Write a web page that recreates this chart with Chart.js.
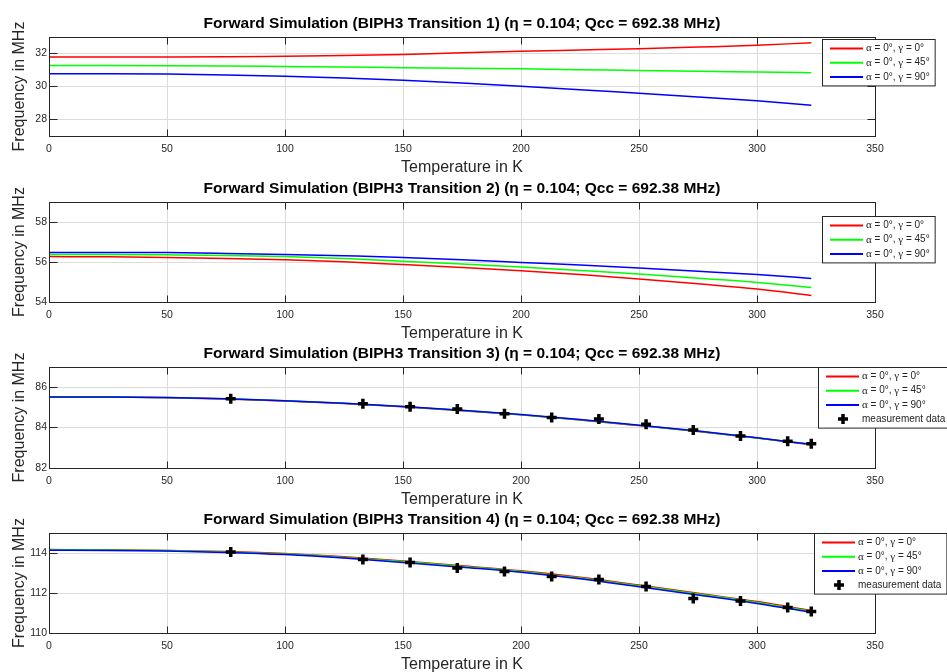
<!DOCTYPE html>
<html>
<head>
<meta charset="utf-8">
<title>Forward Simulation BIPH3</title>
<script src="https://cdn.jsdelivr.net/npm/chart.js@4.4.1/dist/chart.umd.min.js"></script>
<style>
  body { margin: 0; background: #fff; }
  #wrap { position: relative; width: 947px; height: 672px; overflow: hidden; }
  canvas { position: absolute; left: 0; }
</style>
</head>
<body>
<div id="wrap">
  <canvas id="c1" width="947" height="176" style="top:0px"></canvas>
  <canvas id="c2" width="947" height="177" style="top:165px"></canvas>
  <canvas id="c3" width="947" height="178" style="top:330px"></canvas>
  <canvas id="c4" width="947" height="177" style="top:496px"></canvas>
</div>
<script>
// temperature grid of the simulated curves (K)
const modelTemp = [0, 25, 50, 75, 100, 125, 150, 175, 200, 225, 250, 275, 300, 323];

// transition 1
const t1Red   = [31.79, 31.79, 31.79, 31.80, 31.84, 31.88, 31.94, 32.04, 32.13, 32.21, 32.29, 32.39, 32.50, 32.65];
const t1Green = [31.27, 31.27, 31.26, 31.24, 31.21, 31.18, 31.14, 31.11, 31.07, 31.02, 30.97, 30.92, 30.88, 30.84];
const t1Blue  = [30.78, 30.78, 30.76, 30.70, 30.62, 30.51, 30.38, 30.21, 30.02, 29.81, 29.59, 29.37, 29.13, 28.86];

// transition 2
const t2Red   = [56.27, 56.26, 56.23, 56.18, 56.11, 56.01, 55.87, 55.72, 55.56, 55.37, 55.15, 54.91, 54.65, 54.33];
const t2Green = [56.38, 56.38, 56.36, 56.33, 56.27, 56.17, 56.04, 55.90, 55.75, 55.58, 55.40, 55.19, 54.98, 54.73];
const t2Blue  = [56.48, 56.48, 56.47, 56.43, 56.38, 56.31, 56.23, 56.11, 55.98, 55.85, 55.70, 55.54, 55.37, 55.18];

// transition 3
const t3Red   = [85.51, 85.51, 85.48, 85.42, 85.32, 85.19, 85.03, 84.84, 84.63, 84.38, 84.10, 83.81, 83.48, 83.15];
const t3Green = [85.52, 85.52, 85.49, 85.43, 85.33, 85.20, 85.04, 84.85, 84.64, 84.39, 84.11, 83.82, 83.49, 83.16];
const t3Blue  = [85.52, 85.52, 85.49, 85.43, 85.33, 85.20, 85.04, 84.86, 84.65, 84.40, 84.12, 83.83, 83.50, 83.17];

// transition 4
const t4Red   = [114.17, 114.16, 114.13, 114.07, 113.97, 113.81, 113.60, 113.36, 113.11, 112.79, 112.40, 111.99, 111.57, 111.13];
const t4Green = [114.16, 114.15, 114.12, 114.05, 113.95, 113.78, 113.57, 113.33, 113.08, 112.75, 112.36, 111.95, 111.53, 111.08];
const t4Blue  = [114.14, 114.13, 114.10, 114.03, 113.92, 113.75, 113.53, 113.29, 113.04, 112.71, 112.31, 111.90, 111.48, 111.03];

// measurements
const measTemp = [77, 133, 153, 173, 193, 213, 233, 253, 273, 293, 313, 323];
const t3Meas = [85.43, 85.18, 85.03, 84.92, 84.68, 84.50, 84.42, 84.17, 83.88, 83.58, 83.32, 83.20];
const t4Meas = [114.05, 113.67, 113.52, 113.25, 113.07, 112.82, 112.68, 112.33, 111.72, 111.60, 111.27, 111.07];

// axes
const xTicks = [0, 50, 100, 150, 200, 250, 300, 350];
const t1Ticks = [28, 30, 32];
const t2Ticks = [54, 56, 58];
const t3Ticks = [82, 84, 86];
const t4Ticks = [110, 112, 114];

const seriesLabels = ['α = 0°, γ = 0°', 'α = 0°, γ = 45°', 'α = 0°, γ = 90°'];
const measLabel = 'measurement data';
const seriesColors = ['#ff0000', '#00ff00', '#0000ff'];

const SANS = '"Liberation Sans", Arial, sans-serif';
const AXIS = '#262626';

function pts(xs, ys) {
    return xs.map((x, i) => ({ x: x, y: ys[i] }));
}

// box around the axes with inward ticks like matlab
const matlabBox = {
    id: 'matlabBox',
    afterDatasetsDraw(chart) {
        const ctx = chart.ctx;
        const a = chart.chartArea;
        const l = Math.floor(a.left) + 0.5, r = Math.floor(a.right) + 0.5;
        const t = Math.floor(a.top) + 0.5, b = Math.floor(a.bottom) + 0.5;
        ctx.save();
        ctx.strokeStyle = AXIS;
        ctx.lineWidth = 1;
        ctx.strokeRect(l, t, r - l, b - t);
        ctx.beginPath();
        chart.scales.x.ticks.forEach(tk => {
            const x = Math.floor(chart.scales.x.getPixelForValue(tk.value)) + 0.5;
            ctx.moveTo(x, t); ctx.lineTo(x, t + 7);
            ctx.moveTo(x, b); ctx.lineTo(x, b - 7);
        });
        chart.scales.y.ticks.forEach(tk => {
            const y = Math.floor(chart.scales.y.getPixelForValue(tk.value)) + 0.5;
            ctx.moveTo(l, y); ctx.lineTo(l + 8, y);
            ctx.moveTo(r, y); ctx.lineTo(r - 8, y);
        });
        ctx.stroke();
        ctx.restore();
    }
};

// legend text: greek letters in a serif face, the rest sans
function runs(ctx, text, x, y, draw) {
    const parts = text.split(/([α-ω])/);
    parts.forEach(p => {
        if (!p) return;
        ctx.font = /[α-ω]/.test(p) ? '11px "Liberation Serif", serif' : '10px ' + SANS;
        if (draw) ctx.fillText(p, x, y);
        x += ctx.measureText(p).width;
    });
    return x;
}

const boxLegend = {
    id: 'boxLegend',
    afterDraw(chart, args, opts) {
        const ctx = chart.ctx;
        const sets = chart.data.datasets;
        const left = opts.x;
        const top = Math.floor(chart.chartArea.top) + opts.dy + 0.5;
        ctx.save();
        let maxW = 0;
        sets.forEach(ds => { maxW = Math.max(maxW, runs(ctx, ds.label, 0, 0, false)); });
        const w = 44 + maxW + 5;
        const h = 18 + (sets.length - 1) * 14.2;
        ctx.fillStyle = '#fff';
        ctx.fillRect(left, top, w, h);
        ctx.strokeStyle = AXIS;
        ctx.lineWidth = 1;
        ctx.strokeRect(left + 0.5, top, w, h);
        sets.forEach((ds, i) => {
            const y = top + 9 + i * 14.2;
            if (ds.showLine === false) {
                const cx = left + 25;
                ctx.strokeStyle = ds.borderColor;
                ctx.lineWidth = 3.5;
                ctx.beginPath();
                ctx.moveTo(cx - 5, y); ctx.lineTo(cx + 5, y);
                ctx.moveTo(cx, y - 5); ctx.lineTo(cx, y + 5);
                ctx.stroke();
            } else {
                ctx.strokeStyle = ds.borderColor;
                ctx.lineWidth = 2;
                ctx.beginPath();
                ctx.moveTo(left + 8, y); ctx.lineTo(left + 41, y);
                ctx.stroke();
            }
            ctx.fillStyle = AXIS;
            ctx.textBaseline = 'middle';
            runs(ctx, ds.label, left + 44, y, true);
        });
        ctx.restore();
    }
};

function makeChart(id, num, series, meas, yMin, yMax, yTicks, legendX, legendDy) {
    const datasets = series.map((ys, i) => ({
        label: seriesLabels[i],
        data: pts(modelTemp, ys),
        borderColor: seriesColors[i],
        backgroundColor: seriesColors[i],
        borderWidth: 1.5,
        pointRadius: 0,
        cubicInterpolationMode: 'monotone',
        order: 3 - i
    }));
    if (meas) {
        datasets.push({
            label: measLabel,
            data: pts(measTemp, meas),
            showLine: false,
            borderColor: '#000',
            backgroundColor: '#000',
            pointStyle: 'cross',
            pointRadius: 5,
            pointBorderWidth: 3.5,
            order: 0
        });
    }

    return new Chart(document.getElementById(id), {
        type: 'line',
        data: { datasets: datasets },
        plugins: [matlabBox, boxLegend],
        options: {
            responsive: false,
            animation: false,
            events: [],
            layout: { padding: { left: 0, right: 72, top: 0, bottom: 0 } },
            plugins: {
                legend: { display: false },
                tooltip: { enabled: false },
                title: {
                    display: true,
                    fullSize: false,
                    text: 'Forward Simulation (BIPH3 Transition ' + num + ') (η = 0.104; Qcc = 692.38 MHz)',
                    color: '#000',
                    font: { family: SANS, size: 15.5, weight: 'bold', lineHeight: 1.2 },
                    padding: { top: 14.7, bottom: 3.7 }
                },
                boxLegend: { x: legendX, dy: legendDy }
            },
            scales: {
                x: {
                    type: 'linear',
                    min: 0,
                    max: 350,
                    afterBuildTicks: s => { s.ticks = xTicks.map(v => ({ value: v })); },
                    afterFit: s => { s.height = 40; },
                    grid: { color: '#dcdcdc', drawTicks: false },
                    border: { display: false },
                    ticks: { padding: 7, color: AXIS, font: { family: SANS, size: 10.5 } },
                    title: {
                        display: true,
                        text: 'Temperature in K',
                        color: AXIS,
                        font: { family: SANS, size: 16, lineHeight: 1 },
                        padding: { top: 0, bottom: 0 }
                    }
                },
                y: {
                    min: yMin,
                    max: yMax,
                    afterBuildTicks: s => { s.ticks = yTicks.map(v => ({ value: v })); },
                    afterFit: s => { s.width = 49; },
                    grid: { color: '#dcdcdc', drawTicks: false },
                    border: { display: false },
                    ticks: { padding: 2, color: AXIS, font: { family: SANS, size: 10.5 } },
                    title: {
                        display: true,
                        text: 'Frequency in MHz',
                        color: AXIS,
                        font: { family: SANS, size: 16, lineHeight: 1 },
                        padding: { top: 12, bottom: 0 }
                    }
                }
            }
        }
    });
}

makeChart('c1', 1, [t1Red, t1Green, t1Blue], null, 27, 33, t1Ticks, 822, 2);
makeChart('c2', 2, [t2Red, t2Green, t2Blue], null, 54, 59, t2Ticks, 822, 14);
makeChart('c3', 3, [t3Red, t3Green, t3Blue], t3Meas, 82, 87, t3Ticks, 818, 0);
makeChart('c4', 4, [t4Red, t4Green, t4Blue], t4Meas, 110, 115, t4Ticks, 814, 0);
</script>
</body>
</html>
